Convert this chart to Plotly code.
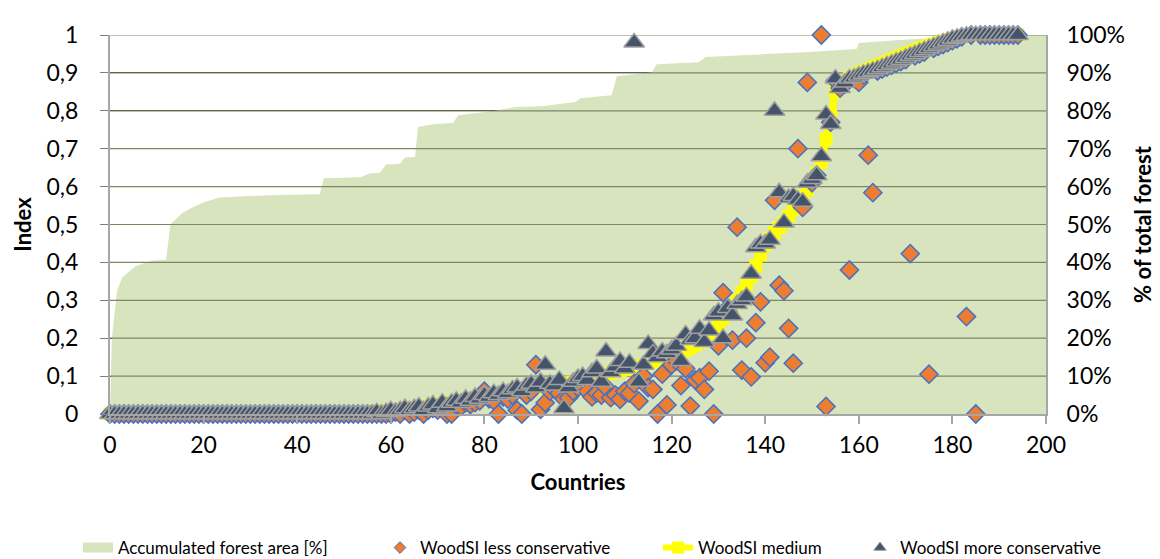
import plotly.graph_objects as go

# ---------------- data ----------------
countries = list(range(195))

woodsi_medium = [
    0, 0, 0, 0, 0, 0, 0, 0, 0, 0,
    0, 0, 0, 0, 0, 0, 0, 0, 0, 0,
    0, 0, 0, 0, 0, 0, 0, 0, 0, 0,
    0, 0, 0, 0, 0, 0, 0, 0, 0, 0,
    0, 0, 0, 0, 0, 0, 0, 0, 0, 0,
    0, 0, 0.002, 0.003, 0.004, 0.005, 0.006, 0.007, 0.008, 0.009,
    0.010, 0.011, 0.012, 0.014, 0.015, 0.017, 0.018, 0.020, 0.021, 0.023,
    0.025, 0.027, 0.029, 0.031, 0.033, 0.035, 0.037, 0.040, 0.042, 0.044,
    0.046, 0.048, 0.050, 0.052, 0.054, 0.056, 0.058, 0.060, 0.062, 0.064,
    0.066, 0.068, 0.070, 0.072, 0.074, 0.076, 0.078, 0.080, 0.082, 0.084,
    0.087, 0.090, 0.093, 0.096, 0.099, 0.102, 0.105, 0.108, 0.111, 0.114,
    0.117, 0.120, 0.123, 0.126, 0.129, 0.133, 0.137, 0.141, 0.145, 0.149,
    0.153, 0.158, 0.163, 0.169, 0.175, 0.182, 0.190, 0.200, 0.212, 0.224,
    0.238, 0.252, 0.266, 0.282, 0.300, 0.320, 0.340, 0.362, 0.390, 0.420,
    0.445, 0.463, 0.478, 0.492, 0.505, 0.522, 0.540, 0.560, 0.575, 0.592,
    0.612, 0.635, 0.665, 0.725, 0.790, 0.850, 0.868, 0.878, 0.886, 0.893,
    0.899, 0.904, 0.909, 0.914, 0.919, 0.924, 0.929, 0.934, 0.939, 0.944,
    0.949, 0.954, 0.959, 0.964, 0.968, 0.972, 0.976, 0.980, 0.984, 0.988,
    0.991, 0.994, 0.996, 0.998, 0.999, 1, 1, 1, 1, 1,
    1, 1, 1, 1, 1,
]

woodsi_more = [
    0, 0, 0, 0, 0, 0, 0, 0, 0, 0,
    0, 0, 0, 0, 0, 0, 0, 0, 0, 0,
    0, 0, 0, 0, 0, 0, 0, 0, 0, 0,
    0, 0, 0, 0, 0, 0, 0, 0, 0, 0,
    0, 0, 0, 0, 0, 0, 0, 0, 0, 0,
    0, 0, 0, 0, 0, 0, 0, 0.005, 0, 0.005,
    0.01, 0.005, 0.01, 0.015, 0.01, 0.015, 0.02, 0.01, 0.02, 0.025,
    0.015, 0.03, 0.02, 0.03, 0.035, 0.03, 0.04, 0.035, 0.045, 0.04,
    0.05, 0.045, 0.055, 0.05, 0.06, 0.055, 0.065, 0.07, 0.06, 0.075,
    0.08, 0.07, 0.085, 0.13, 0.08, 0.075, 0.09, 0.015, 0.07, 0.085,
    0.095, 0.10, 0.09, 0.11, 0.12, 0.085, 0.165, 0.11, 0.125, 0.14,
    0.12, 0.135, 0.98, 0.085, 0.13, 0.185, 0.16, 0.15, 0.165, 0.16,
    0.17, 0.18, 0.14, 0.21, 0.195, 0.20, 0.225, 0.19, 0.22, 0.26,
    0.27, 0.20, 0.28, 0.26, 0.29, 0.30, 0.31, 0.37, 0.44, 0.45,
    0.45, 0.46, 0.80, 0.585, 0.505, 0.57, 0.575, 0.565, 0.56, 0.61,
    0.62, 0.63, 0.68, 0.79, 0.765, 0.885, 0.86, 0.875, 0.885, 0.888,
    0.893, 0.898, 0.902, 0.906, 0.91, 0.915, 0.92, 0.925, 0.93, 0.935,
    0.94, 0.945, 0.95, 0.955, 0.96, 0.965, 0.97, 0.975, 0.98, 0.985,
    0.99, 0.993, 0.996, 0.998, 1, 1, 1, 1, 1, 1,
    1, 1, 1, 1, 1,
]

woodsi_less = [
    0, 0, 0, 0, 0, 0, 0, 0, 0, 0,
    0, 0, 0, 0, 0, 0, 0, 0, 0, 0,
    0, 0, 0, 0, 0, 0, 0, 0, 0, 0,
    0, 0, 0, 0, 0, 0, 0, 0, 0, 0,
    0, 0, 0, 0, 0, 0, 0, 0, 0, 0,
    0, 0, 0, 0, 0, 0, 0, 0, 0, 0,
    0, 0.005, 0, 0.01, 0, 0.005, 0.01, 0, 0.01, 0.015,
    0.01, 0.02, 0, 0, 0.025, 0.02, 0.03, 0.025, 0.03, 0.035,
    0.06, 0.04, 0.035, 0, 0.045, 0.04, 0.05, 0.01, 0, 0.05,
    0.06, 0.13, 0.012, 0.03, 0.06, 0.065, 0.055, 0.04, 0.043, 0.06,
    0.07, 0.075, 0.06, 0.045, 0.055, 0.05, 0.07, 0.043, 0.05, 0.039,
    0.06, 0.055, 0.08, 0.034, 0.10, 0.07, 0.065, 0, 0.105, 0.024,
    0.13, 0.14, 0.075, 0.12, 0.021, 0.09, 0.096, 0.065, 0.113, 0,
    0.18, 0.32, 0.28, 0.195, 0.493, 0.116, 0.2, 0.098, 0.241, 0.296,
    0.135, 0.15, 0.564, 0.34, 0.325, 0.226, 0.134, 0.70, 0.545, 0.875,
    0.61, 0.63, 1.0, 0.02, 0.77, 0.88, 0.86, 0.87, 0.38, 0.885,
    0.875, 0.895, 0.683, 0.584, 0.905, 0.91, 0.915, 0.92, 0.925, 0.93,
    0.935, 0.423, 0.945, 0.95, 0.955, 0.105, 0.965, 0.97, 0.975, 0.98,
    0.985, 0.99, 0.995, 0.257, 1, 0, 1, 1, 1, 1,
    1, 1, 1, 1, 1,
]

# accumulated forest area (share of total forest), breakpoints of the area
area_x = [0, 0.4, 1.5, 2.6, 5.4, 9, 12, 12.9, 15.4, 17.6, 20, 23.3, 32, 36,
          44.8, 45.7, 53.6, 55.5, 57.6, 59, 62, 63, 65.2, 65.8, 69.4, 73.3,
          74.4, 82.3, 86.6, 92.2, 99.5, 100.5, 107.2, 108.3, 115.8, 116.8,
          125.8, 127.3, 149.4, 159.5, 160, 168.7, 180, 194, 200]
area_pct = [0, 0.20, 0.325, 0.36, 0.39, 0.405, 0.407, 0.50, 0.53, 0.545,
            0.558, 0.571, 0.576, 0.578, 0.58, 0.622, 0.625, 0.635, 0.636,
            0.658, 0.66, 0.677, 0.678, 0.757, 0.765, 0.768, 0.788, 0.80,
            0.81, 0.812, 0.823, 0.833, 0.841, 0.891, 0.902, 0.923, 0.928,
            0.942, 0.955, 0.963, 0.979, 0.987, 0.995, 1.0, 1.0]

x_ticks = [0, 20, 40, 60, 80, 100, 120, 140, 160, 180, 200]
y_ticks = [0, 0.1, 0.2, 0.3, 0.4, 0.5, 0.6, 0.7, 0.8, 0.9, 1.0]

FONT = "Lato"
TICK_SIZE = 23
TITLE_SIZE = 22

fig = go.Figure()

# accumulated forest area
fig.add_trace(go.Scatter(
    x=area_x, y=area_pct, mode="lines", fill="tozeroy",
    line=dict(width=0, color="rgba(0,0,0,0)"),
    fillcolor="#D7E4BD",
    name="Accumulated forest area [%]", showlegend=False, hoverinfo="skip"))

# gridlines seen through the area: one horizontal segment per tick value
for v in y_ticks[1:]:
    fig.add_trace(go.Scatter(
        x=[x_ticks[0], x_ticks[-1]], y=[v, v], mode="lines",
        line=dict(color="#7E8668", width=1.2),
        showlegend=False, hoverinfo="skip"))

fig.add_trace(go.Scatter(
    x=countries, y=woodsi_medium, mode="lines+markers",
    line=dict(color="#FFFF00", width=7),
    marker=dict(symbol="square", size=13, color="#FFFF00"),
    cliponaxis=False, name="WoodSI medium", showlegend=False))

fig.add_trace(go.Scatter(
    x=countries, y=woodsi_less, mode="markers",
    marker=dict(symbol="diamond", size=14, color="#ED7D31",
                line=dict(color="#4472C4", width=1.5)),
    cliponaxis=False, name="WoodSI less conservative", showlegend=False))

fig.add_trace(go.Scatter(
    x=countries, y=woodsi_more, mode="markers",
    marker=dict(symbol="triangle-up", size=18, color="#44546A",
                line=dict(color="#A0A0A0", width=1.5)),
    cliponaxis=False, name="WoodSI more conservative", showlegend=False))

# right axis carrier
fig.add_trace(go.Scatter(
    x=area_x, y=area_pct, yaxis="y2", mode="lines",
    line=dict(width=0, color="rgba(0,0,0,0)"), opacity=0,
    showlegend=False, hoverinfo="skip"))

# legend entries
fig.add_trace(go.Scatter(
    x=[None], y=[None], mode="lines", line=dict(color="#D7E4BD", width=13),
    name="Accumulated forest area [%]", legend="legend"))
fig.add_trace(go.Scatter(
    x=[None], y=[None], mode="markers",
    marker=dict(symbol="diamond", size=9, color="#ED7D31",
                line=dict(color="#4472C4", width=1)),
    name="WoodSI less conservative", legend="legend2"))
fig.add_trace(go.Scatter(
    x=[None], y=[None], mode="lines+markers",
    line=dict(color="#FFFF00", width=6),
    marker=dict(symbol="square", size=12, color="#FFFF00"),
    name="WoodSI medium", legend="legend3"))
fig.add_trace(go.Scatter(
    x=[None], y=[None], mode="markers",
    marker=dict(symbol="triangle-up", size=11, color="#44546A",
                line=dict(color="#A0A0A0", width=1)),
    name="WoodSI more conservative", legend="legend4"))


def leg(xpx):
    return dict(x=xpx / 1160, xref="container", y=1 - 540 / 559,
                yref="container", xanchor="left", yanchor="middle",
                orientation="h", bgcolor="rgba(0,0,0,0)",
                font=dict(family=FONT, size=17, color="#000000"))


fig.update_layout(
    width=1160, height=559,
    margin=dict(l=102, r=122, t=27, b=153),
    paper_bgcolor="white", plot_bgcolor="white",
    separators=",.",
    font=dict(family=FONT, size=TICK_SIZE, color="#000000"),
    xaxis=dict(range=[0, 200], tickvals=x_ticks, ticks="outside", ticklen=8,
               tickcolor="#A6A6A6", tickwidth=1.5, showline=True,
               linecolor="#A6A6A6", linewidth=2, showgrid=False,
               zeroline=False, ticklabelstandoff=1,
               tickfont=dict(size=TICK_SIZE),
               title=dict(text="Countries", standoff=18,
                          font=dict(size=TITLE_SIZE, weight="bold"))),
    yaxis=dict(range=[0, 1], tickvals=y_ticks, ticks="outside", ticklen=8,
               tickcolor="#7F7F7F", showline=True, linecolor="#A6A6A6",
               linewidth=2, showgrid=True, gridcolor="#000000", gridwidth=1,
               zeroline=False, ticklabelstandoff=17,
               tickfont=dict(size=TICK_SIZE),
               title=dict(text="Index", standoff=9,
                          font=dict(size=TITLE_SIZE, weight="bold"))),
    yaxis2=dict(range=[0, 1], tickvals=y_ticks, tickformat=".0%",
                overlaying="y", side="right", showgrid=False, zeroline=False,
                showline=True, linecolor="#A6A6A6", linewidth=2, ticks="",
                ticklabelstandoff=14, tickfont=dict(size=TICK_SIZE),
                title=dict(text="% of total forest", standoff=12,
                           font=dict(size=TITLE_SIZE, weight="bold"))),
    legend=leg(70),
    legend2=leg(372),
    legend3=leg(650),
    legend4=leg(852),
)

fig.write_html("out.html")
